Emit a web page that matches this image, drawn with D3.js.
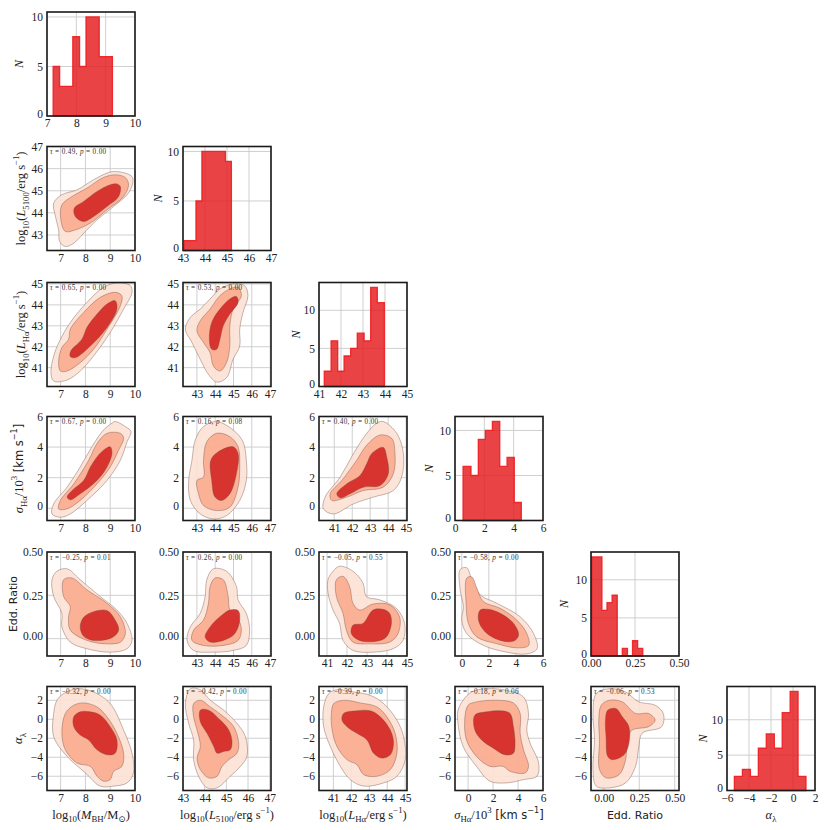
<!DOCTYPE html>
<html>
<head>
<meta charset="utf-8">
<script src="https://cdn.jsdelivr.net/npm/d3@7"></script>
<style>
body{margin:0;background:#fff}
svg text{font-family:"Liberation Serif","DejaVu Serif",serif}
</style>
</head>
<body>
<div id="chart"></div>
<script>
// ---- histogram bins (edges) and counts ----
const mbhEdges = [7.21, 7.43, 7.66, 7.88, 8.11, 8.33, 8.56, 8.78, 9.0, 9.23];
const mbhCounts = [5, 3, 3, 8, 5, 10, 10, 6, 6];
const l5100Edges = [43.05, 43.32, 43.59, 43.86, 44.13, 44.4, 44.66, 44.93, 45.2];
const l5100Counts = [1, 1, 5, 10, 10, 10, 10, 9];
const lhaEdges = [41.24, 41.55, 41.85, 42.14, 42.44, 42.74, 43.05, 43.35, 43.65, 43.97];
const lhaCounts = [2, 6, 2, 4, 5, 7, 6, 13, 11];
const sigmaEdges = [0.55, 1.09, 1.59, 2.07, 2.55, 3.05, 3.55, 4.04, 4.52];
const sigmaCounts = [6, 5, 9, 10, 11, 6, 7, 2];
const eddEdges = [0.004, 0.033, 0.062, 0.091, 0.120, 0.149, 0.178, 0.207, 0.236, 0.265, 0.294];
const eddCounts = [13, 13, 6, 7, 8, 0, 1, 0, 2, 1];
const alphaEdges = [-5.33, -4.6, -3.87, -3.15, -2.43, -1.7, -0.98, -0.26, 0.46, 1.18];
const alphaCounts = [2, 3, 2, 6, 8, 6, 11, 14, 2];

// ---- tick values ----
const mbhTicks = [7, 8, 9, 10];
const l5100Ticks = [43, 44, 45, 46, 47];
const lhaTicks = [41, 42, 43, 44, 45];
const sigmaTicks = [0, 2, 4, 6];
const eddTicks = [0, 0.25, 0.5];
const alphaTicks = [-6, -4, -2, 0, 2];
const countTicks = [0, 5, 10];

// ---- KDE contour outlines (outer, middle, inner), in data units ----
const kdeL5100Mbh = [
  [[8.87,45.8],[9.14,45.87],[9.6,45.8],[9.88,45.64],[9.92,45.42],[9.74,44.9],[9.14,44.29],[8.47,43.69],[7.93,43.08],[7.53,42.63],[7.19,42.48],[6.96,42.71],[6.92,43.23],[6.79,43.84],[6.72,44.44],[7.05,44.82],[7.66,45.04],[8.33,45.5]],
  [[9.2,45.72],[9.61,45.6],[9.74,45.27],[9.54,44.74],[8.87,44.14],[8.2,43.54],[7.59,43.23],[7.19,43.16],[7.01,43.69],[7.05,44.36],[7.46,44.74],[8.06,45.12],[8.73,45.6]],
  [[9.27,45.31],[9.41,45.19],[9.34,44.74],[8.87,44.29],[8.33,43.84],[7.93,43.61],[7.59,43.84],[7.55,44.21],[7.93,44.52],[8.47,44.97],[9.0,45.27]]
];
const kdeLhaMbh = [
  [[9.27,45.05],[9.81,44.92],[9.88,44.6],[9.54,43.8],[9.0,42.68],[8.33,41.56],[7.79,40.84],[7.26,40.41],[6.72,40.36],[6.61,40.76],[6.72,41.56],[6.96,42.28],[7.39,43.16],[8.06,44.12],[8.73,44.84]],
  [[9.2,44.6],[9.47,44.44],[9.41,43.96],[8.87,42.84],[8.33,41.88],[7.79,41.24],[7.26,40.84],[6.99,40.84],[6.92,41.32],[7.05,41.96],[7.32,42.36],[7.39,42.84],[7.93,43.64],[8.6,44.36]],
  [[9.2,44.2],[9.27,43.8],[8.87,42.92],[8.2,42.04],[7.59,41.48],[7.39,41.53],[7.41,41.8],[7.86,42.36],[8.06,42.92],[8.47,43.56],[8.87,44.04]]
];
const kdeLhaL5100 = [
  [[44.98,45.0],[45.61,44.92],[45.79,44.44],[45.52,43.64],[45.34,42.84],[45.34,42.04],[44.98,41.4],[44.62,40.52],[44.08,40.31],[43.63,40.68],[43.18,41.4],[42.73,42.2],[42.37,42.84],[42.64,43.4],[43.18,43.8],[43.72,44.28],[44.26,44.76]],
  [[45.25,44.84],[45.43,44.44],[44.98,43.8],[44.8,43.0],[44.8,42.04],[44.62,41.24],[44.26,40.84],[43.9,41.08],[43.72,41.72],[43.36,42.2],[43.0,42.76],[43.18,43.24],[43.72,43.8],[44.26,44.44],[44.8,44.76]],
  [[45.16,44.4],[45.25,44.12],[44.8,43.56],[44.44,43.0],[44.26,42.36],[44.08,41.88],[43.81,41.88],[43.68,42.36],[43.81,43.16],[44.26,43.8],[44.8,44.28]]
];
const kdeSigmaMbh = [
  [[9.07,5.56],[9.2,5.67],[9.61,5.34],[9.84,5.01],[9.68,4.35],[9.41,3.14],[8.87,1.82],[8.06,0.51],[7.39,-0.37],[6.99,-0.59],[6.65,-0.37],[6.72,0.29],[7.26,1.38],[7.79,2.7],[8.26,4.02],[8.73,5.12]],
  [[9.41,4.9],[9.54,4.57],[9.34,3.8],[9.0,2.7],[8.47,1.6],[7.79,0.51],[7.26,-0.04],[6.92,-0.04],[6.99,0.51],[7.53,1.6],[8.13,3.14],[8.47,4.24],[8.87,4.9]],
  [[9.0,4.02],[9.07,3.58],[8.87,2.7],[8.47,1.82],[7.79,0.95],[7.39,0.55],[7.26,0.73],[7.46,1.16],[7.93,1.82],[8.2,2.7],[8.47,3.36],[8.73,3.8]]
];
const kdeSigmaL5100 = [
  [[44.08,5.67],[44.98,5.12],[45.52,4.35],[45.7,3.14],[45.7,1.82],[45.34,0.51],[44.62,-0.48],[43.9,-0.7],[43.18,-0.37],[42.64,0.51],[42.55,1.82],[42.73,3.14],[42.91,4.46],[43.36,5.34]],
  [[44.08,4.9],[44.8,4.68],[45.25,4.02],[45.34,2.7],[45.25,1.38],[44.8,0.07],[44.08,-0.15],[43.36,0.18],[43.09,0.95],[43.0,1.82],[43.36,2.04],[43.36,3.14],[43.54,4.35]],
  [[44.17,3.69],[44.98,4.02],[45.25,3.58],[45.16,2.26],[44.8,0.95],[44.35,0.51],[43.99,0.73],[43.81,1.82],[43.76,3.14]]
];
const kdeSigmaLha = [
  [[43.73,5.67],[44.48,4.9],[44.85,3.58],[44.75,2.04],[44.29,1.16],[43.18,0.73],[42.07,0.29],[40.96,-0.37],[40.4,-0.04],[40.49,0.73],[41.33,2.04],[42.07,3.58],[42.81,4.9],[43.36,5.56]],
  [[43.55,4.79],[44.2,4.57],[44.38,3.58],[44.29,2.26],[43.73,1.38],[42.62,1.16],[41.7,0.73],[40.86,0.51],[40.77,0.95],[41.42,1.82],[42.25,3.14],[42.81,4.13]],
  [[43.09,3.58],[43.73,3.98],[43.92,3.36],[44.01,2.26],[43.55,1.49],[42.62,1.38],[41.88,0.95],[41.33,0.68],[41.14,0.95],[41.7,1.6],[42.44,2.15],[42.81,2.92]]
];
const kdeEddMbh = [
  [[6.85,0.389],[7.26,0.403],[7.79,0.34],[8.6,0.243],[9.27,0.165],[9.68,0.088],[9.88,-0.01],[9.68,-0.058],[9.0,-0.078],[8.06,-0.058],[7.39,-0.02],[7.05,0.068],[7.05,0.146],[6.72,0.243],[6.65,0.34]],
  [[7.12,0.34],[7.46,0.35],[8.06,0.282],[8.87,0.204],[9.41,0.126],[9.61,0.029],[9.41,-0.02],[8.87,-0.03],[8.06,-0.01],[7.39,0.049],[7.32,0.126],[7.39,0.185],[7.12,0.243]],
  [[8.33,0.156],[8.87,0.162],[9.2,0.107],[9.34,0.049],[9.07,0.006],[8.33,-0.01],[7.93,0.014],[7.79,0.068],[7.93,0.123]]
];
const kdeEddL5100 = [
  [[43.9,0.403],[44.62,0.389],[45.16,0.302],[45.25,0.224],[45.7,0.146],[45.88,0.049],[45.7,-0.039],[44.98,-0.068],[43.9,-0.078],[42.82,-0.068],[42.46,-0.01],[42.64,0.068],[43.18,0.146],[43.45,0.243],[43.54,0.34]],
  [[43.99,0.35],[44.44,0.34],[44.71,0.243],[44.8,0.165],[45.25,0.117],[45.43,0.049],[45.25,-0.01],[44.44,-0.039],[43.36,-0.039],[42.73,-0.01],[42.82,0.049],[43.36,0.107],[43.63,0.204],[43.72,0.301]],
  [[44.8,0.165],[45.25,0.162],[45.34,0.107],[45.07,0.029],[44.44,-0.01],[43.72,-0.019],[43.45,0.01],[43.72,0.068],[44.26,0.126]]
];
const kdeEddLha = [
  [[41.3,0.389],[41.63,0.418],[42.3,0.389],[42.8,0.321],[42.97,0.243],[43.63,0.224],[44.47,0.175],[44.88,0.088],[44.8,-0.01],[44.3,-0.058],[43.3,-0.078],[42.3,-0.068],[41.8,-0.01],[41.63,0.088],[41.3,0.165],[41.05,0.263],[41.05,0.34]],
  [[41.47,0.34],[41.8,0.36],[42.13,0.302],[42.3,0.204],[42.63,0.165],[43.3,0.2],[44.13,0.195],[44.63,0.126],[44.55,0.029],[44.13,-0.02],[43.13,-0.03],[42.3,-0.02],[41.97,0.049],[41.8,0.146],[41.47,0.243]],
  [[43.3,0.165],[43.8,0.169],[44.13,0.146],[44.22,0.088],[43.97,0.01],[43.47,-0.015],[42.63,-0.01],[42.22,0.029],[42.3,0.078],[42.8,0.088]]
];
const kdeEddSigma = [
  [[-0.12,0.399],[0.37,0.409],[0.74,0.34],[1.36,0.253],[2.59,0.204],[4.32,0.126],[5.31,0.029],[5.56,-0.058],[4.81,-0.088],[3.33,-0.078],[1.6,-0.039],[0.37,0.029],[0.0,0.107],[0.12,0.185],[-0.12,0.282]],
  [[0.37,0.35],[0.74,0.356],[1.11,0.292],[1.6,0.214],[2.84,0.175],[4.07,0.107],[4.81,0.029],[4.94,-0.039],[4.07,-0.053],[2.59,-0.029],[1.11,0.01],[0.49,0.088],[0.32,0.204]],
  [[1.36,0.165],[1.98,0.169],[2.84,0.146],[3.83,0.088],[4.2,0.02],[3.83,-0.014],[2.84,-0.01],[1.73,0.039],[1.23,0.107]]
];
const kdeAlphaMbh = [
  [[7.12,2.7],[7.66,3.22],[8.33,2.87],[9.0,1.65],[9.54,-1.13],[9.88,-3.57],[9.94,-5.65],[9.68,-6.7],[9.14,-7.04],[8.6,-7.04],[8.0,-5.65],[7.26,-3.91],[6.72,-1.83],[6.72,0.61],[6.85,2.0]],
  [[7.53,1.48],[7.93,1.72],[8.47,1.3],[8.87,0.26],[9.27,-1.48],[9.54,-3.57],[9.47,-4.96],[9.14,-5.48],[9.0,-6.35],[8.73,-6.52],[8.47,-6.0],[8.2,-4.96],[7.66,-4.61],[7.19,-3.22],[7.05,-1.48],[7.19,0.61]],
  [[7.79,0.78],[8.2,0.78],[8.6,0.43],[9.0,-0.78],[9.27,-2.17],[9.2,-3.57],[8.87,-3.74],[8.47,-3.22],[8.13,-2.17],[7.79,-1.65],[7.53,-0.78],[7.53,0.26]]
];
const kdeAlphaL5100 = [
  [[43.34,3.22],[43.8,3.11],[44.26,2.0],[44.88,0.96],[45.49,-0.43],[45.88,-1.83],[45.95,-3.91],[45.65,-4.96],[45.18,-6.0],[44.57,-7.22],[44.11,-7.22],[43.72,-6.0],[43.49,-4.26],[43.49,-2.17],[43.26,-0.43],[43.11,1.65]],
  [[43.49,1.65],[43.8,2.0],[44.26,1.3],[44.88,0.26],[45.34,-0.78],[45.57,-2.52],[45.49,-3.57],[45.11,-4.26],[44.8,-4.96],[44.57,-6.0],[44.18,-6.17],[43.8,-5.3],[43.65,-4.09],[43.8,-2.87],[43.65,-1.13],[43.49,0.26]],
  [[43.8,0.96],[44.18,0.96],[44.72,-0.09],[45.11,-1.13],[45.26,-2.35],[45.18,-3.22],[44.88,-3.39],[44.57,-3.57],[44.42,-2.87],[44.11,-1.48],[43.8,-0.26]]
];
const kdeAlphaLha = [
  [[40.74,2.7],[41.2,3.11],[42.13,2.87],[43.06,2.52],[43.8,1.65],[44.54,-0.09],[44.91,-1.83],[45.0,-4.26],[44.54,-6.0],[43.8,-6.7],[42.69,-7.04],[41.94,-6.35],[41.39,-4.96],[40.83,-2.87],[40.46,-0.78],[40.46,1.3]],
  [[41.02,1.65],[41.57,2.0],[42.5,1.72],[43.43,1.3],[43.98,0.26],[44.44,-1.48],[44.54,-3.57],[44.17,-5.3],[43.43,-6.0],[42.69,-5.83],[42.31,-4.78],[41.76,-4.26],[41.2,-2.87],[40.93,-1.13],[40.89,0.61]],
  [[41.57,0.61],[42.31,0.89],[43.06,0.89],[43.61,0.26],[44.17,-1.13],[44.35,-2.52],[44.17,-3.74],[43.7,-4.09],[43.24,-3.57],[42.87,-2.17],[42.31,-1.48],[41.76,-0.78],[41.48,-0.09]]
];
const kdeAlphaSigma = [
  [[0.27,2.87],[1.48,3.22],[3.09,3.04],[4.44,2.35],[4.84,0.61],[4.7,-1.13],[4.97,-2.52],[5.65,-4.61],[5.51,-6.0],[4.44,-6.35],[3.09,-6.7],[1.75,-6.52],[0.67,-4.96],[-0.4,-2.87],[-0.81,-0.43],[-0.81,0.96],[-0.4,2.0]],
  [[0.0,1.48],[0.67,1.83],[2.28,2.0],[3.63,1.72],[4.17,0.61],[4.17,-1.48],[4.44,-3.22],[4.84,-4.96],[4.57,-5.65],[3.36,-5.48],[2.82,-4.96],[1.75,-4.96],[0.67,-3.91],[-0.13,-2.17],[-0.27,-0.09]],
  [[0.54,0.43],[1.48,0.78],[2.69,0.89],[3.36,0.61],[3.63,-0.78],[3.76,-2.52],[3.63,-3.57],[2.96,-3.74],[2.02,-3.04],[1.08,-2.17],[0.54,-1.13]]
];
const kdeAlphaEdd = [
  [[-0.053,2.7],[0.039,3.22],[0.154,2.87],[0.247,1.83],[0.362,1.48],[0.419,0.61],[0.408,-0.78],[0.27,-1.48],[0.247,-2.87],[0.224,-4.96],[0.154,-6.7],[0.039,-7.22],[-0.053,-7.04],[-0.076,-5.3],[-0.065,-2.17],[-0.076,0.61]],
  [[-0.018,1.48],[0.039,2.0],[0.131,1.83],[0.224,0.61],[0.316,0.61],[0.362,-0.09],[0.316,-0.78],[0.2,-1.13],[0.166,-2.17],[0.154,-4.26],[0.108,-5.83],[0.016,-6.17],[-0.03,-5.3],[-0.03,-2.17],[-0.035,-0.09]],
  [[0.028,0.96],[0.085,1.13],[0.131,0.26],[0.177,-0.78],[0.177,-2.52],[0.143,-3.74],[0.062,-4.26],[0.028,-3.91],[0.016,-1.83],[0.012,-0.09]]
];

// Kendall tau / p-value annotations
const tauValues = ["0.49", "0.65", "0.53", "0.67", "0.16", "0.40", "−0.25", "0.26", "−0.05", "−0.58", "−0.32", "−0.42", "−0.39", "−0.18", "−0.06"];
const pValues = ["0.00", "0.00", "0.00", "0.00", "0.08", "0.00", "0.01", "0.00", "0.55", "0.00", "0.00", "0.00", "0.00", "0.06", "0.53"];

// ---- layout ----
const width = 830, height = 830;
const colLeft = [47, 183, 319, 455, 591, 727];
const rowTop = [12, 146.5, 282.5, 416.5, 552, 686.5];
const pw = 88, ph = 104;

const serif = "'Liberation Serif', 'DejaVu Serif', serif";
const sans = "'DejaVu Sans', sans-serif";

// label definitions as [text, style] parts
const labels = [
  [["log",""],["10","sub"],["(",""],["M","i"],["BH","sub"],["/M",""],["⊙","sub"],[")",""]],
  [["log",""],["10","sub"],["(",""],["L","i"],["5100","sub"],["/erg s",""],["−1","sup"],[")",""]],
  [["log",""],["10","sub"],["(",""],["L","i"],["Hα","sub"],["/erg s",""],["−1","sup"],[")",""]],
  [["σ","i"],["Hα","sub"],["/10",""],["3","sup"],[" [km s","sans"],["−1","supsans"],["]","sans"]],
  [["Edd. Ratio","sans"]],
  [["α","i"],["λ","sub"]]
];
const nLabel = [["N","i"]];

const vars = [
  {edges: mbhEdges, counts: mbhCounts, ticks: mbhTicks, hist: [7, 10], fmt: d3.format("d")},
  {edges: l5100Edges, counts: l5100Counts, ticks: l5100Ticks, hist: [43, 47], fmt: d3.format("d")},
  {edges: lhaEdges, counts: lhaCounts, ticks: lhaTicks, hist: [41, 45], fmt: d3.format("d")},
  {edges: sigmaEdges, counts: sigmaCounts, ticks: sigmaTicks, hist: [0, 6], fmt: d3.format("d")},
  {edges: eddEdges, counts: eddCounts, ticks: eddTicks, hist: [0, 0.5], fmt: d3.format(".2f")},
  {edges: alphaEdges, counts: alphaCounts, ticks: alphaTicks, hist: [-6, 2], fmt: d3.format("d")}
];

// axis limits of the off-diagonal panels
const rowYLim = [null, [42.3, 47], [40.1, 45.07], [-0.8, 6], [-0.1, 0.5], [-7.5, 3.45]];
const panelXLim = {
  "1-0": [6.45, 10], "2-0": [6.45, 10], "3-0": [6.45, 10], "4-0": [6.45, 10], "5-0": [6.45, 10],
  "2-1": [42.24, 47.05], "3-1": [42.24, 47.05], "4-1": [42.24, 47.05], "5-1": [43, 47.06],
  "3-2": [40.15, 45.05], "4-2": [40.6, 45], "5-2": [40.2, 45.1],
  "4-3": [-0.5, 6], "5-3": [-1.05, 6],
  "5-4": [-0.09, 0.53]
};
const kdePanels = [
  [1, 0, kdeL5100Mbh],
  [2, 0, kdeLhaMbh], [2, 1, kdeLhaL5100],
  [3, 0, kdeSigmaMbh], [3, 1, kdeSigmaL5100], [3, 2, kdeSigmaLha],
  [4, 0, kdeEddMbh], [4, 1, kdeEddL5100], [4, 2, kdeEddLha], [4, 3, kdeEddSigma],
  [5, 0, kdeAlphaMbh], [5, 1, kdeAlphaL5100], [5, 2, kdeAlphaLha], [5, 3, kdeAlphaSigma], [5, 4, kdeAlphaEdd]
];
const yLabelX = [22, 25, 25, 23, 17, 22];
const nLabelOffset = [-24, -21, -19, -22, -23, -20];

const levelFill = ["#fde1d4", "#fbab8f", "#d42826"];

const svg = d3.select("#chart").append("svg")
  .attr("width", width).attr("height", height)
  .style("background", "#fff");

// Write text made of plain / italic / sub / sup parts.
function richText(text, parts, size) {
  let cur = 0;
  parts.forEach(([t, st]) => {
    let off = 0;
    if (st.startsWith("sub")) off = 0.3 * size;
    if (st.startsWith("sup")) off = -0.45 * size;
    const ts = text.append("tspan").text(t).attr("dy", off - cur);
    cur = off;
    if (st === "i") ts.style("font-style", "italic");
    if (st.startsWith("sub") || st.startsWith("sup")) ts.attr("font-size", size * 0.7);
    if (st === "sans" || st === "supsans") ts.style("font-family", sans).attr("font-size", st === "sans" ? size * 0.92 : size * 0.65);
  });
  return text;
}

function drawAxes(g, x, y, xTicks, yTicks, xFmt, yFmt) {
  // grid
  g.append("g").selectAll("line.gx").data(xTicks).join("line")
    .attr("x1", d => x(d)).attr("x2", d => x(d)).attr("y1", 0).attr("y2", ph)
    .attr("stroke", "#cfcfcf").attr("stroke-width", 1);
  g.append("g").selectAll("line.gy").data(yTicks).join("line")
    .attr("x1", 0).attr("x2", pw).attr("y1", d => y(d)).attr("y2", d => y(d))
    .attr("stroke", "#cfcfcf").attr("stroke-width", 1);

  const xa = g.append("g").attr("transform", "translate(0," + ph + ")")
    .call(d3.axisBottom(x).tickValues(xTicks).tickFormat(xFmt).tickSize(0).tickPadding(3));
  const ya = g.append("g")
    .call(d3.axisLeft(y).tickValues(yTicks).tickFormat(yFmt).tickSize(0).tickPadding(4));
  [xa, ya].forEach(a => {
    a.attr("font-family", null);
    a.select(".domain").remove();
    a.selectAll("text").style("font-family", serif).style("font-size", "11.5px").attr("fill", "#222");
  });
  // the zero label of a count axis sits a little higher, as in the original
  ya.selectAll("text").filter(d => d === yTicks[0] && yTicks[0] === 0).attr("dy", "0.1em");
}

function frame(g) {
  g.append("rect").attr("width", pw).attr("height", ph)
    .attr("fill", "none").attr("stroke", "#1a1a1a").attr("stroke-width", 1.6);
}

// ---- diagonal histograms ----
vars.forEach((v, i) => {
  const g = svg.append("g").attr("transform", "translate(" + colLeft[i] + "," + rowTop[i] + ")");
  const x = d3.scaleLinear().domain(v.hist).range([0, pw]);
  const y = d3.scaleLinear().domain([0, d3.max(v.counts) * 1.05]).range([ph, 0]);
  drawAxes(g, x, y, v.ticks, countTicks, v.fmt, d3.format("d"));

  const pts = [[v.edges[0], 0]];
  v.counts.forEach((c, k) => { pts.push([v.edges[k], c]); pts.push([v.edges[k + 1], c]); });
  pts.push([v.edges[v.edges.length - 1], 0]);
  g.append("path")
    .attr("d", d3.line().x(d => x(d[0])).y(d => y(d[1]))(pts) + "Z")
    .attr("fill", "#e41a1c").attr("fill-opacity", 0.82)
    .attr("stroke", "#ee1c20").attr("stroke-opacity", 0.9).attr("stroke-width", 1.3);
  frame(g);

  richText(svg.append("text")
    .attr("transform", "translate(" + (colLeft[i] + nLabelOffset[i]) + "," + (rowTop[i] + ph / 2) + ") rotate(-90)")
    .attr("text-anchor", "middle").style("font-family", serif).attr("font-size", 12).attr("fill", "#222"),
    nLabel, 12);
});

// ---- KDE panels ----
kdePanels.forEach(([r, c, levels], idx) => {
  const g = svg.append("g").attr("transform", "translate(" + colLeft[c] + "," + rowTop[r] + ")");
  const x = d3.scaleLinear().domain(panelXLim[r + "-" + c]).range([0, pw]);
  const y = d3.scaleLinear().domain(rowYLim[r]).range([ph, 0]);
  drawAxes(g, x, y, vars[c].ticks, vars[r].ticks, vars[c].fmt, vars[r].fmt);

  const clipId = "clip" + idx;
  g.append("clipPath").attr("id", clipId).append("rect").attr("width", pw).attr("height", ph);
  const line = d3.line().x(d => x(d[0])).y(d => y(d[1])).curve(d3.curveCatmullRomClosed.alpha(0.5));
  const cg = g.append("g").attr("clip-path", "url(#" + clipId + ")");
  levels.forEach((poly, k) => {
    cg.append("path").attr("d", line(poly))
      .attr("fill", levelFill[k]).attr("fill-opacity", k === 2 ? 0.92 : 0.9)
      .attr("stroke", "#6b4a44").attr("stroke-opacity", 0.65).attr("stroke-width", 0.6);
  });
  frame(g);

  const t = g.append("text").attr("x", 3).attr("y", 7.5)
    .style("font-family", serif).attr("font-size", 7.2).attr("letter-spacing", 0.35).attr("fill", "#333");
  richText(t, [["τ","i"],[" = " + tauValues[idx] + ", ",""],["p","i"],[" = " + pValues[idx],""]], 7.2);
});

// ---- row labels (left) ----
labels.forEach((parts, r) => {
  if (r === 0) {
    return;
  }
  const isSans = r === 4;
  richText(svg.append("text")
    .attr("transform", "translate(" + yLabelX[r] + "," + (rowTop[r] + ph / 2) + ") rotate(-90)")
    .attr("text-anchor", "middle").style("font-family", isSans ? sans : serif)
    .attr("font-size", isSans ? 11 : 12.5).attr("fill", "#222"),
    isSans ? [["Edd. Ratio",""]] : parts, isSans ? 11 : 12.5);
});

// ---- column labels (bottom) ----
labels.forEach((parts, c) => {
  const isSans = c === 4;
  richText(svg.append("text")
    .attr("x", colLeft[c] + pw / 2).attr("y", rowTop[5] + ph + 28)
    .attr("text-anchor", "middle").style("font-family", isSans ? sans : serif)
    .attr("font-size", isSans ? 11 : 12.5).attr("fill", "#222"),
    isSans ? [["Edd. Ratio",""]] : parts, isSans ? 11 : 12.5);
});
</script>
</body>
</html>
